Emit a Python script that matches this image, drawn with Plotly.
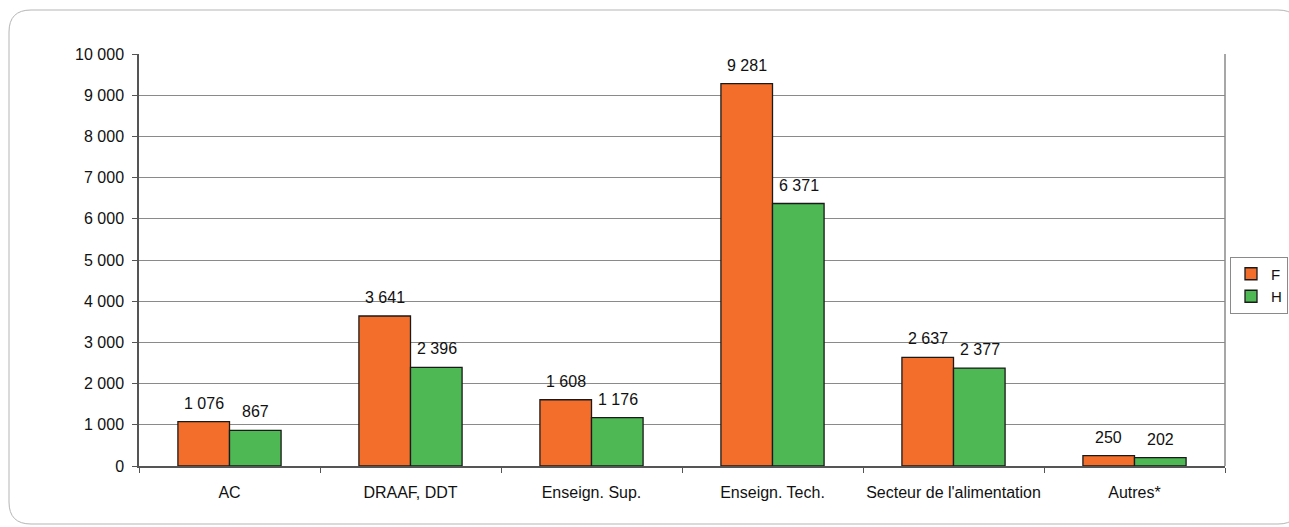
import plotly.graph_objects as go

categories = ["AC", "DRAAF, DDT", "Enseign. Sup.", "Enseign. Tech.",
              "Secteur de l'alimentation", "Autres*"]
femmes = [1076, 3641, 1608, 9281, 2637, 250]
hommes = [867, 2396, 1176, 6371, 2377, 202]
y_ticks = [0, 1000, 2000, 3000, 4000, 5000, 6000, 7000, 8000, 9000, 10000]

font = dict(family="Liberation Sans, Arial, sans-serif", size=16, color="#111111")

fig = go.Figure()
fig.add_trace(go.Bar(
    x=categories, y=femmes, name="F",
    marker=dict(color="#F26E2A", line=dict(color="#1a1a1a", width=1.3)),
))
fig.add_trace(go.Bar(
    x=categories, y=hommes, name="H",
    marker=dict(color="#4DB854", line=dict(color="#1a1a1a", width=1.3)),
))

# value labels, sitting a little above each bar
def fmt(v):
    return f"{v:,}".replace(",", " ")

for cat, f, h in zip(categories, femmes, hommes):
    for val, shift in ((f, -26), (h, 26)):
        fig.add_annotation(x=cat, y=val, text=fmt(val), showarrow=False,
                           xshift=shift, yshift=8, yanchor="bottom", font=font)

# pixel -> paper helpers (margins l=139, r=4, t=54, b=61)
W = 1289 - 139 - 4
H = 527 - 54 - 61
px_x = lambda p: (p - 139) / W
px_y = lambda p: (466 - p) / H

# rounded frame around the whole chart
L, R, T, B = px_x(9), px_x(1300), px_y(10), px_y(524)
rx, ry = 22 / W, 22 / H
frame = (f"M {L + rx} {T} L {R - rx} {T} Q {R} {T} {R} {T - ry} "
         f"L {R} {B + ry} Q {R} {B} {R - rx} {B} "
         f"L {L + rx} {B} Q {L} {B} {L} {B + ry} "
         f"L {L} {T - ry} Q {L} {T} {L + rx} {T} Z")

fig.update_layout(
    width=1289, height=527,
    margin=dict(l=139, r=4, t=54, b=61, autoexpand=False),
    paper_bgcolor="white", plot_bgcolor="white",
    font=font,
    separators=", ",
    barmode="group", bargap=0.43, bargroupgap=0,
    showlegend=True,
    legend=dict(x=px_x(1288), y=px_y(285), xanchor="right", yanchor="middle",
                bordercolor="#8a8a8a", borderwidth=1,
                font=dict(size=15), itemwidth=30, tracegroupgap=2),
    shapes=[
        dict(type="path", path=frame, xref="paper", yref="paper",
             line=dict(color="#b5b5b5", width=1), layer="below"),
        dict(type="line", xref="x domain", yref="paper", x0=1, x1=1, y0=0, y1=1,
             line=dict(color="#8a8a8a", width=1.5)),
    ],
    xaxis=dict(
        domain=[0, px_x(1225)], automargin=False, tickangle=0,
        showline=True, linecolor="#555555", linewidth=1.5,
        ticks="outside", tickson="boundaries", ticklen=5, tickcolor="#555555",
        ticklabelstandoff=11,
        showgrid=False, tickfont=font,
    ),
    yaxis=dict(
        range=[0, 10000], tickvals=y_ticks, tickformat=",d", automargin=False,
        showline=True, linecolor="#555555", linewidth=1.5,
        ticks="outside", ticklen=5, tickcolor="#555555",
        ticklabelstandoff=5,
        showgrid=True, gridcolor="#8a8a8a", gridwidth=1,
        zeroline=False, tickfont=font,
    ),
)

fig.write_html("out.html", config={"displayModeBar": False},
               post_script="document.body.style.margin = '0';")
